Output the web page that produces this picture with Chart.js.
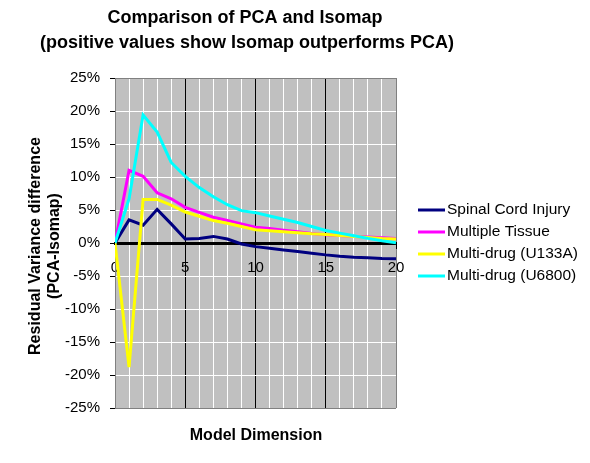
<!DOCTYPE html>
<html>
<head>
<meta charset="utf-8">
<script src="https://cdn.jsdelivr.net/npm/chart.js@4"></script>
<style>
  html, body { margin: 0; padding: 0; background: #fff; }
</style>
</head>
<body>
<canvas id="chart" width="590" height="463"></canvas>
<script>
// Model dimensions (x axis)
const dims = [0, 1, 2, 3, 4, 5, 6, 7, 8, 9, 10, 11, 12, 13, 14, 15, 16, 17, 18, 19, 20];

// Residual variance difference (PCA - Isomap), in %
const spinalCord = [0, 3.5, 2.7, 5.1, 2.9, 0.6, 0.7, 1.0, 0.6, -0.15, -0.55, -0.8, -1.05, -1.3, -1.55, -1.8, -2.0, -2.15, -2.25, -2.35, -2.4];
const multiTissue = [0, 11.0, 10.1, 7.6, 6.7, 5.4, 4.65, 3.9, 3.4, 2.9, 2.4, 2.2, 1.95, 1.7, 1.45, 1.25, 1.15, 1.0, 0.9, 0.8, 0.7];
const u133a = [0, -18.8, 6.6, 6.6, 5.75, 4.7, 4.05, 3.4, 3.0, 2.5, 2.0, 1.85, 1.7, 1.55, 1.4, 1.3, 1.15, 1.0, 0.85, 0.7, 0.6];
const u6800 = [0, 6.7, 19.4, 16.8, 12.2, 10.1, 8.4, 7.0, 5.8, 4.9, 4.6, 4.1, 3.6, 3.1, 2.5, 1.9, 1.5, 1.1, 0.7, 0.35, 0.05];

const seriesNames = ['Spinal Cord Injury', 'Multiple Tissue', 'Multi-drug (U133A)', 'Multi-drug (U6800)'];
const seriesColors = ['#000080', '#FF00FF', '#FFFF00', '#00FFFF'];
const seriesValues = [spinalCord, multiTissue, u133a, u6800];

const yTicks = [-25, -20, -15, -10, -5, 0, 5, 10, 15, 20, 25];

const FONT = '"Liberation Sans", Arial, sans-serif';

// gray plot background
const plotBg = {
  id: 'plotBg',
  beforeDraw(chart) {
    const a = chart.chartArea, ctx = chart.ctx;
    ctx.save();
    ctx.fillStyle = '#C0C0C0';
    ctx.fillRect(a.left, a.top, a.right - a.left, a.bottom - a.top);
    ctx.restore();
  }
};

// titles and legend drawn like the excel original
const texts = {
  id: 'texts',
  afterDraw(chart) {
    const ctx = chart.ctx;
    ctx.save();
    ctx.fillStyle = '#000';
    ctx.textAlign = 'center';
    ctx.textBaseline = 'middle';
    ctx.font = 'bold 18px ' + FONT;
    ctx.fillText('Comparison of PCA and Isomap', 245, 18);
    ctx.fillText('(positive values show Isomap outperforms PCA)', 247, 43);

    ctx.font = 'bold 16px ' + FONT;
    ctx.fillText('Model Dimension', 256, 436);

    ctx.save();
    ctx.translate(36, 246);
    ctx.rotate(-Math.PI / 2);
    ctx.fillText('Residual Variance difference', 0, 0);
    ctx.fillText('(PCA-Isomap)', 0, 19);
    ctx.restore();

    // legend
    ctx.textAlign = 'left';
    ctx.font = '15.5px ' + FONT;
    chart.data.datasets.forEach((ds, i) => {
      const y = 210 + i * 22;
      ctx.strokeStyle = ds.borderColor;
      ctx.lineWidth = 3;
      ctx.beginPath();
      ctx.moveTo(418, y);
      ctx.lineTo(445, y);
      ctx.stroke();
      ctx.fillText(ds.label, 447, y);
    });
    ctx.restore();
  }
};

const datasets = seriesNames.map((name, i) => ({
  label: name,
  data: dims.map((d, j) => ({ x: d, y: seriesValues[i][j] })),
  borderColor: seriesColors[i],
  backgroundColor: seriesColors[i],
  borderWidth: 3,
  pointRadius: 0,
  tension: 0,
  fill: false,
  order: seriesNames.length - i
}));

new Chart(document.getElementById('chart'), {
  type: 'line',
  data: { datasets: datasets },
  options: {
    responsive: false,
    animation: false,
    devicePixelRatio: 1,
    layout: { padding: { left: 0, right: 194, top: 78, bottom: 55 } },
    plugins: {
      legend: { display: false },
      tooltip: { enabled: false }
    },
    scales: {
      x: {
        type: 'linear',
        position: { y: 0 },
        min: 0,
        max: 20,
        ticks: {
          stepSize: 1,
          autoSkip: false,
          maxRotation: 0,
          color: '#000',
          font: { family: FONT, size: 15 },
          padding: 12,
          callback: v => (v % 5 === 0 ? v : '')
        },
        grid: {
          color: c => {
            const v = c.tick ? c.tick.value : 0;
            if (v === 0 || v === 20) return '#808080';
            return v % 5 === 0 ? '#000' : '#FFFFFF';
          },
          lineWidth: 1,
          tickLength: 4,
          tickColor: c => (c.tick && c.tick.value % 5 === 0 ? '#000' : 'rgba(0,0,0,0)')
        },
        border: { color: '#000', width: 3 }
      },
      y: {
        min: -25,
        max: 25,
        afterFit: s => { s.width = 115; },
        afterBuildTicks: s => { s.ticks = yTicks.map(v => ({ value: v })); },
        ticks: {
          color: '#000',
          font: { family: FONT, size: 15 },
          padding: 10,
          callback: v => v + '%'
        },
        grid: {
          color: c => {
            const v = c.tick ? c.tick.value : 0;
            if (v === 25 || v === -25) return '#808080';
            return v === 0 ? '#000' : '#FFFFFF';
          },
          lineWidth: 1,
          tickLength: 5,
          tickColor: '#000'
        },
        border: { color: '#808080', width: 1 }
      }
    }
  },
  plugins: [plotBg, texts]
});
</script>
</body>
</html>
